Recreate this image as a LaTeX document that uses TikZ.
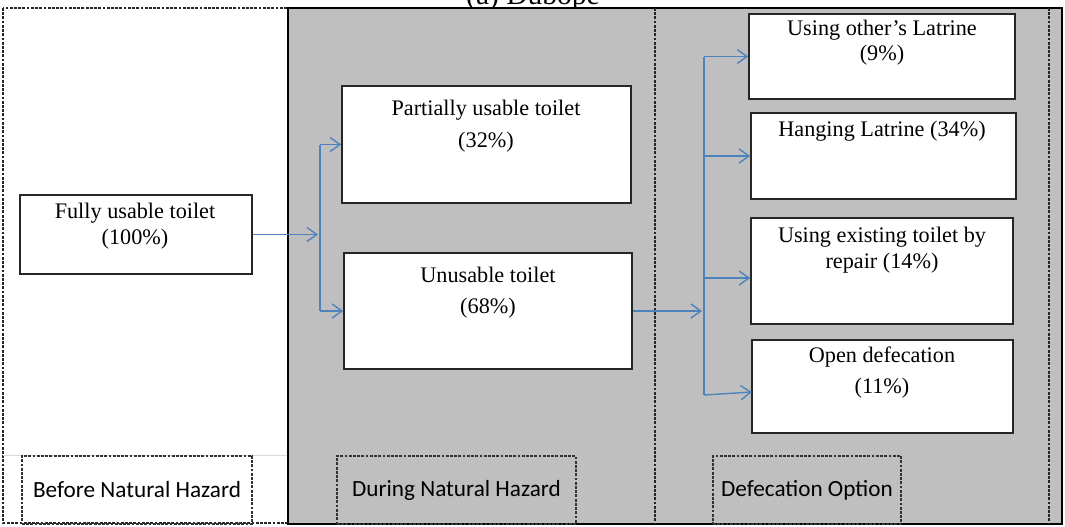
\documentclass[tikz,border=0pt]{standalone}
\usepackage{fontspec}
\setmainfont{Liberation Serif}
\newfontfamily\labelfont{Carlito}
\usetikzlibrary{arrows.meta}
\definecolor{panelgray}{HTML}{BFBFBF}
\definecolor{flowblue}{HTML}{4F81BD}
\begin{document}
\begin{tikzpicture}[x=0.025cm, y=-0.025cm,
  frame/.style={draw=black!85, line width=1.1pt, fill=white, inner sep=0pt},
  body/.style={font=\fontsize{15.8}{#1}\selectfont, align=center, inner sep=0pt, text=black},
  body/.default=20pt,
  tag/.style={draw=black!80, dash pattern=on 2pt off 1pt, line width=0.8pt,
              font=\labelfont\fontsize{16.5}{20}\selectfont, inner sep=0pt},
  flow/.style={draw=flowblue, line width=1pt, -{Straight Barb[length=7pt,width=10pt]}},
  trunk/.style={draw=flowblue, line width=1pt},
  divider/.style={draw=black!85, dash pattern=on 2pt off 1pt, line width=0.8pt}]

\useasboundingbox (0,0) rectangle (1065,526);
\fill[white] (0,0) rectangle (1065,526);

% caption (runs off the top edge)
\node[font=\fontsize{21}{25}\selectfont, anchor=base, inner sep=0pt] (title) at (533,5) {(a) Dubope};

% column before the hazard
\draw[divider, fill=white] (3,8) rectangle (288,523);
\draw[black!15, line width=0.6pt] (3,455) -- (288,455);

% shaded panel for the hazard period and options
\draw[fill=panelgray, draw=black, line width=1.4pt] (288,8) rectangle (1062,524);
\draw[divider] (655,8) -- (655,524);
\draw[divider] (1049,8) -- (1049,524);

% column tags
\node[tag, minimum width=5.75cm, minimum height=1.7cm] (before) at (137,490) {Before Natural Hazard};
\node[tag, minimum width=5.975cm, minimum height=1.7cm] (during) at (456.5,490) {During Natural Hazard};
\node[tag, minimum width=4.7cm, minimum height=1.7cm] (option) at (807,490) {Defecation Option};

% toilet state boxes
\node[frame, minimum width=5.8cm, minimum height=1.975cm] (fully) at (136,234.5) {};
\node[body=18.4pt] (fullyT) at (135,226) {Fully usable toilet\\(100\%)};

\node[frame, minimum width=7.225cm, minimum height=2.925cm] (partial) at (486.5,144.5) {};
\node[body=22.7pt] (partialT) at (486,126) {Partially usable toilet\\(32\%)};

\node[frame, minimum width=7.2cm, minimum height=2.9cm] (unusable) at (488,311) {};
\node[body=22pt] (unusableT) at (488,292.5) {Unusable toilet\\(68\%)};

% defecation option boxes
\node[frame, minimum width=6.65cm, minimum height=2.125cm] (other) at (882,56.5) {};
\node[body=17.7pt] (otherT) at (882,42.5) {Using other’s Latrine\\(9\%)};

\node[frame, minimum width=6.625cm, minimum height=2.15cm] (hanging) at (883.5,156) {};
\node[body] (hangingT) at (882,131) {Hanging Latrine (34\%)};

\node[frame, minimum width=6.55cm, minimum height=2.65cm] (repair) at (882,271) {};
\node[body=18.4pt] (repairT) at (882,250) {Using existing toilet by\\repair (14\%)};

\node[frame, minimum width=6.525cm, minimum height=2.325cm] (open) at (882.5,386.5) {};
\node[body=22pt] (openT) at (882,372.5) {Open defecation\\(11\%)};

% flow from the usable toilet to its states
\coordinate (fIn) at (318,234.5);
\coordinate (fTop) at (320,144.5);
\coordinate (fBot) at (320,311);
\draw[flow] (fully.east) -- (fIn);
\draw[trunk] (fTop) -- (fBot);
\draw[flow] (fTop) -- (partial.west);
\draw[flow] (fBot) -- (unusable.west);

% flow from the unusable toilet to the options
\coordinate (uIn) at (702,311);
\coordinate (o1) at (704,56.5);
\coordinate (o2) at (704,156);
\coordinate (o3) at (704,278);
\coordinate (o4) at (704,395);
\coordinate (openTip) at (752,392);
\draw[flow] (unusable.east) -- (uIn);
\draw[trunk] (o1) -- (o4);
\draw[flow] (o1) -- (other.west);
\draw[flow] (o2) -- (hanging.west);
\draw[flow] (o3) -- (o3 -| repair.west);
\draw[flow] (o4) -- (openTip);
\end{tikzpicture}
\end{document}
